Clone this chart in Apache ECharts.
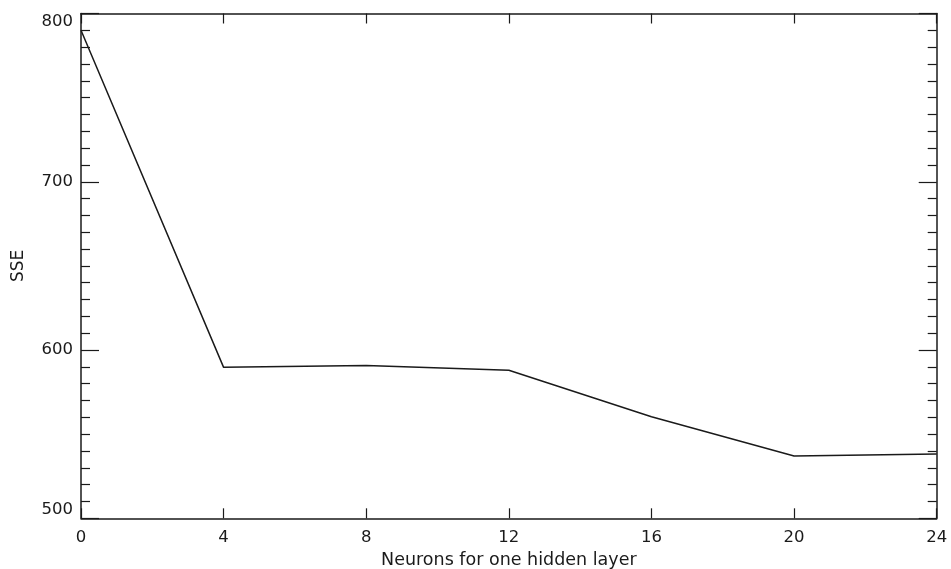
<!DOCTYPE html>
<html>
<head>
<meta charset="utf-8">
<script src="https://cdn.jsdelivr.net/npm/echarts@6/dist/echarts.min.js"></script>
<style>html,body{margin:0;padding:0;background:#fff;}#c{width:951px;height:569px;}</style>
</head>
<body>
<div id="c"></div>
<script>
const neurons = [0, 4, 8, 12, 16, 20, 24];
const sse = [790, 589.7, 590.8, 588, 560.4, 537, 538.2];
const xName = 'Neurons for one hidden layer';
const yName = 'SSE';

const ink = '#1a1a1a';
const font = 'DejaVu Sans';
const chart = echarts.init(document.getElementById('c'), null, {renderer: 'canvas'});
const axisLine = {show: true, onZero: false, lineStyle: {color: ink, width: 1.5}};
const xBase = {
  type: 'value', min: 0, max: 24, interval: 4,
  axisLine: axisLine,
  axisTick: {show: true, inside: true, length: 10, lineStyle: {color: ink, width: 1.2}},
  splitLine: {show: false}
};
const yBase = {
  type: 'value', min: 500, max: 800, interval: 100,
  axisLine: axisLine,
  axisTick: {show: true, inside: true, length: 18, lineStyle: {color: ink, width: 1.2}},
  minorTick: {show: true, splitNumber: 10, length: 9, lineStyle: {color: ink, width: 1.2}},
  splitLine: {show: false}, minorSplitLine: {show: false}
};
chart.setOption({
  animation: false,
  backgroundColor: '#fff',
  grid: {left: 81, right: 14.3, top: 13.5, bottom: 50.7, containLabel: false, outerBoundsMode: 'none'},
  xAxis: [
    Object.assign({}, xBase, {
      position: 'bottom',
      name: xName, nameLocation: 'middle', nameGap: 29,
      nameTextStyle: {color: ink, fontFamily: font, fontSize: 17.5},
      axisLabel: {color: ink, fontFamily: font, fontSize: 16.5, margin: 11}
    }),
    Object.assign({}, xBase, {position: 'top', axisLabel: {show: false}})
  ],
  yAxis: [
    Object.assign({}, yBase, {
      position: 'left',
      name: yName, nameLocation: 'middle', nameGap: 54, nameRotate: 90,
      nameTextStyle: {color: ink, fontFamily: font, fontSize: 17},
      axisLabel: {color: ink, fontFamily: font, fontSize: 16.5, margin: 8,
        verticalAlignMinLabel: 'bottom', verticalAlignMaxLabel: 'top'}
    }),
    Object.assign({}, yBase, {position: 'right', axisLabel: {show: false}})
  ],
  series: [{
    type: 'line',
    data: neurons.map((n, i) => [n, sse[i]]),
    showSymbol: false, symbol: 'none',
    lineStyle: {color: ink, width: 1.5},
    xAxisIndex: 0, yAxisIndex: 0
  }]
});
</script>
</body>
</html>
